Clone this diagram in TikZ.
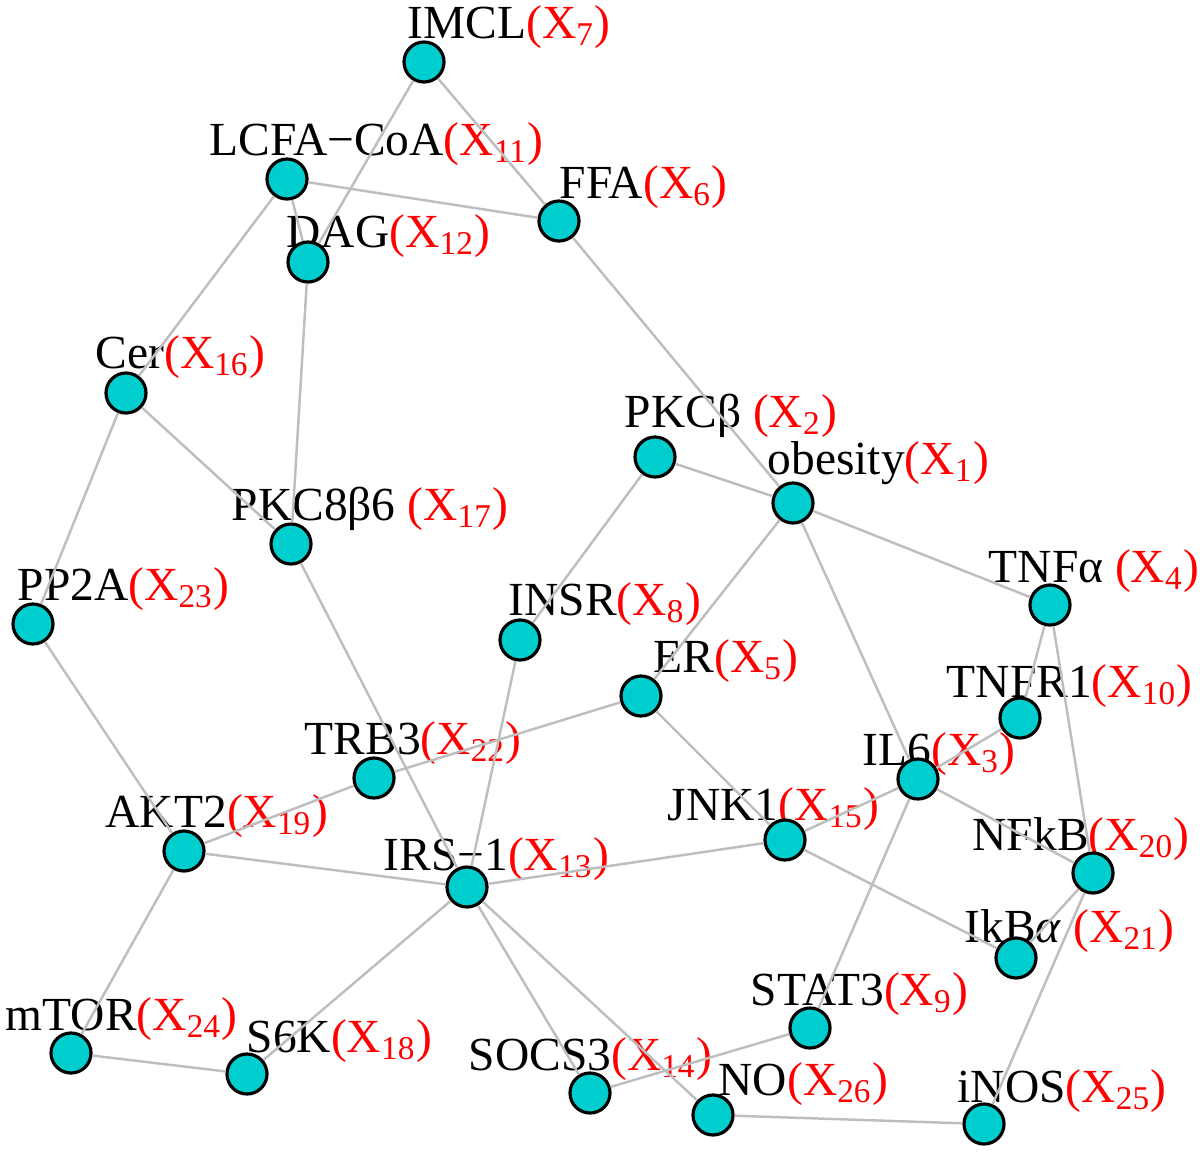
\documentclass[tikz,border=0pt]{standalone}
\usepackage{fontspec}
\setmainfont{Liberation Serif}
\usepackage{tikz}
\usetikzlibrary{positioning}
\definecolor{vcyan}{RGB}{0,205,205}
\definecolor{egray}{RGB}{190,190,190}
\newcommand{\xv}[1]{\textcolor{red}{(X\textsubscript{#1})}}

\begin{document}
\begin{tikzpicture}[
    x=0.01cm, y=-0.01cm,
    vtx/.style={circle, draw=black, line width=0.9pt, fill=vcyan, minimum size=0.40cm, inner sep=0pt},
    lbl/.style={anchor=base west, inner sep=0pt, font=\fontsize{13.5}{16}\selectfont},
    edge/.style={draw=egray, line width=0.7pt}
]
\useasboundingbox (0,0) rectangle (1200,1154);

% Labels
\node[lbl] (imcl-l)   at (407,38)   {IMCL\xv{7}};
\node[lbl] (lcfa-l)   at (209,155)  {LCFA−CoA\xv{11}};
\node[lbl] (ffa-l)    at (559,198)  {FFA\xv{6}};
\node[lbl] (dag-l)    at (286,247)  {DAG\xv{12}};
\node[lbl] (cer-l)    at (95,368)   {Cer\xv{16}};
\node[lbl] (pkcb-l)   at (624,427)  {PKCβ \xv{2}};
\node[lbl] (obes-l)   at (767,474)  {obesity\xv{1}};
\node[lbl] (pkcd-l)   at (231,520)  {PKC8β6 \xv{17}};
\node[lbl] (pp2a-l)   at (17,600)   {PP2A\xv{23}};
\node[lbl] (tnfa-l)   at (988,582)  {TNFα \xv{4}};
\node[lbl] (insr-l)   at (508,615)  {INSR\xv{8}};
\node[lbl] (er-l)     at (653,672)  {ER\xv{5}};
\node[lbl] (tnfr-l)   at (946,697)  {TNFR1\xv{10}};
\node[lbl] (trb3-l)   at (304,754)  {TRB3\xv{22}};
\node[lbl] (il6-l)    at (862,765)  {IL6\xv{3}};
\node[lbl] (akt2-l)   at (105,827)  {AKT2\xv{19}};
\node[lbl] (jnk1-l)   at (667,820)  {JNK1\xv{15}};
\node[lbl] (nfkb-l)   at (972,850)  {NFkB\xv{20}};
\node[lbl] (irs1-l)   at (383,870)  {IRS−1\xv{13}};
\node[lbl] (ikba-l)   at (964,942)  {IkB\textit{α} \xv{21}};
\node[lbl] (stat3-l)  at (750,1005) {STAT3\xv{9}};
\node[lbl] (mtor-l)   at (5,1030)   {mTOR\xv{24}};
\node[lbl] (s6k-l)    at (246,1052) {S6K\xv{18}};
\node[lbl] (socs3-l)  at (468,1070) {SOCS3\xv{14}};
\node[lbl] (no-l)     at (718,1095) {NO\xv{26}};
\node[lbl] (inos-l)   at (957,1102) {iNOS\xv{25}};

% Vertices
\node[vtx] (imcl)  at (424,62)   {};
\node[vtx] (lcfa)  at (287,179)  {};
\node[vtx] (ffa)   at (559,221)  {};
\node[vtx] (dag)   at (308,262)  {};
\node[vtx] (cer)   at (126,393)  {};
\node[vtx] (pkcb)  at (655,457)  {};
\node[vtx] (obes)  at (793,503)  {};
\node[vtx] (pkcd)  at (291,544)  {};
\node[vtx] (pp2a)  at (33,624)   {};
\node[vtx] (tnfa)  at (1050,605) {};
\node[vtx] (insr)  at (520,640)  {};
\node[vtx] (er)    at (641,696)  {};
\node[vtx] (tnfr)  at (1020,718) {};
\node[vtx] (trb3)  at (374,778)  {};
\node[vtx] (il6)   at (918,779)  {};
\node[vtx] (akt2)  at (184,851)  {};
\node[vtx] (jnk1)  at (785,840)  {};
\node[vtx] (nfkb)  at (1093,873) {};
\node[vtx] (irs1)  at (467,887)  {};
\node[vtx] (ikba)  at (1016,958) {};
\node[vtx] (stat3) at (810,1028) {};
\node[vtx] (mtor)  at (71,1053)  {};
\node[vtx] (s6k)   at (247,1074) {};
\node[vtx] (socs3) at (590,1093) {};
\node[vtx] (no)    at (713,1115) {};
\node[vtx] (inos)  at (984,1124) {};

% Edges
\path[edge] (imcl) -- (dag)  (imcl) -- (ffa)  (lcfa) -- (ffa)  (lcfa) -- (cer)
    (lcfa) -- (dag)  (dag) -- (pkcd)  (cer) -- (pp2a)  (cer) -- (pkcd)
    (ffa) -- (obes)  (pkcb) -- (obes)  (pkcb) -- (insr)  (obes) -- (tnfa)
    (obes) -- (er)  (obes) -- (il6)  (pkcd) -- (irs1)  (pp2a) -- (akt2)
    (tnfa) -- (tnfr)  (tnfa) -- (nfkb)  (insr) -- (irs1)  (er) -- (trb3)
    (er) -- (jnk1)  (tnfr) -- (il6)  (trb3) -- (akt2)  (il6) -- (jnk1)
    (il6) -- (nfkb)  (il6) -- (stat3)  (akt2) -- (irs1)  (akt2) -- (mtor)
    (jnk1) -- (irs1)  (jnk1) -- (ikba)  (nfkb) -- (ikba)  (nfkb) -- (inos)
    (irs1) -- (s6k)  (irs1) -- (socs3)  (irs1) -- (no)  (stat3) -- (socs3)
    (mtor) -- (s6k)  (no) -- (inos);

\end{tikzpicture}
\end{document}
